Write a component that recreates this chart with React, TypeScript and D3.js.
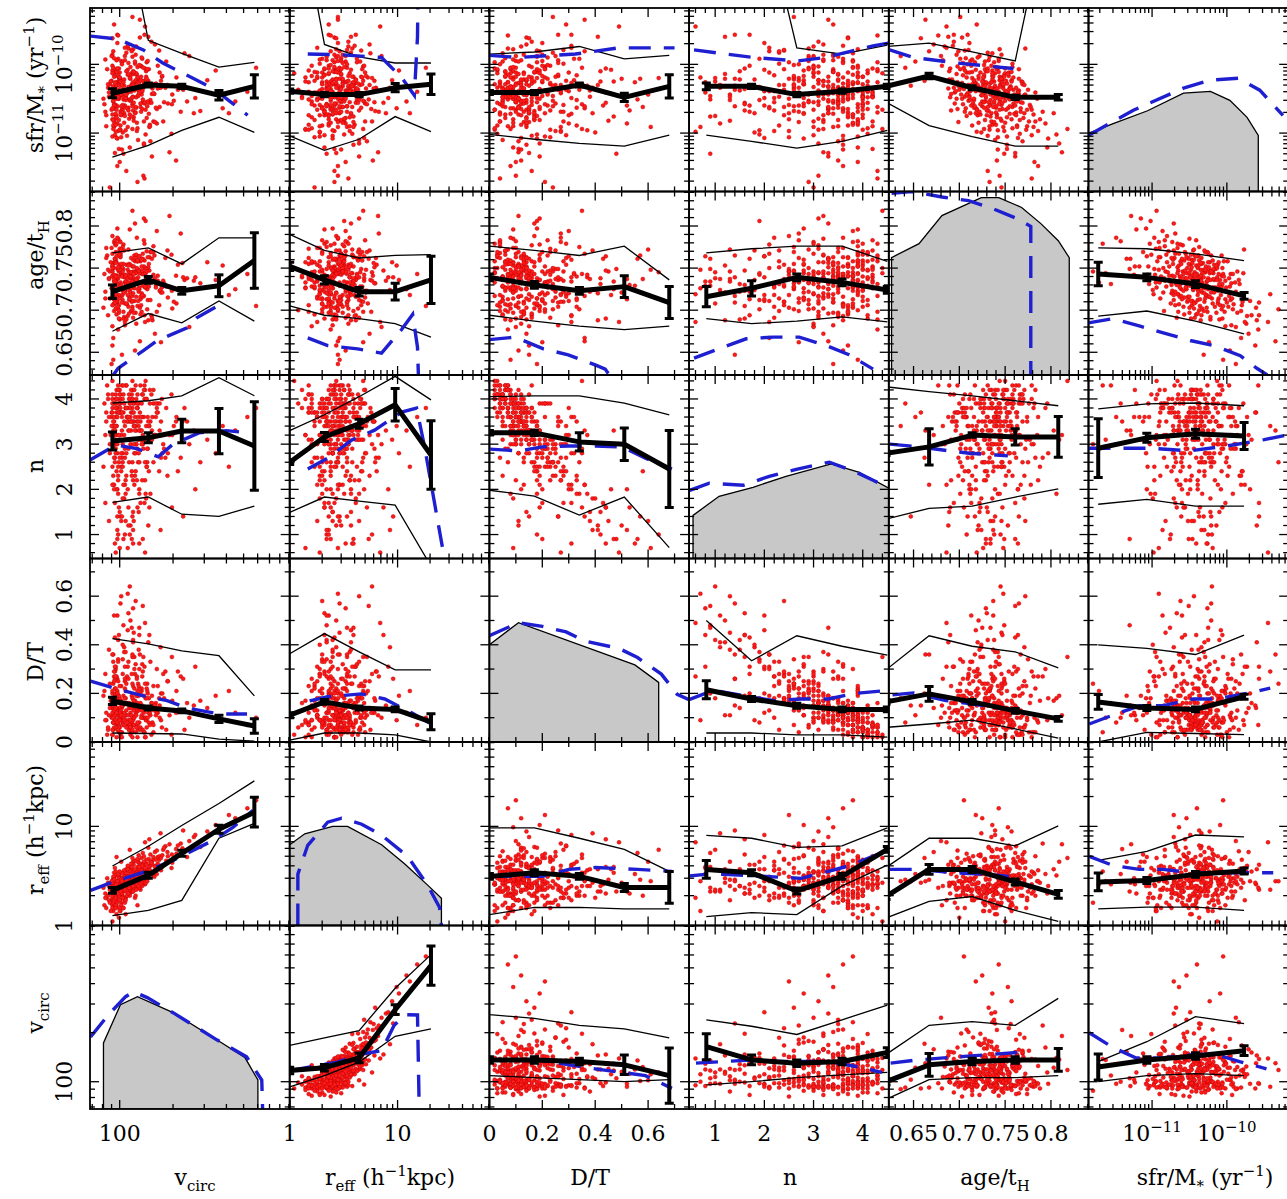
import React, { useEffect, useRef } from "react";
import * as d3 from "d3";

type Key = "vcirc" | "reff" | "dt" | "n" | "age" | "sfr";

// column variables left to right; rows run the other way round
const colKeys: Key[] = ["vcirc", "reff", "dt", "n", "age", "sfr"];
const rowKeys: Key[] = ["sfr", "age", "n", "dt", "reff", "vcirc"];

// axis limits (sfr/M* kept as log10 yr^-1)
const limits: Record<Key, [number, number]> = {
  vcirc: [68, 910],
  reff: [1, 71],
  dt: [0, 0.755],
  n: [0.47, 4.53],
  age: [0.623, 0.841],
  sfr: [-11.85, -9.18],
};

// tick labels
const vcircTicks = [100];
const reffTicks = [1, 10];
const dtTicks = [0, 0.2, 0.4, 0.6];
const nTicks = [1, 2, 3, 4];
const ageTicks = [0.65, 0.7, 0.75, 0.8];
const sfrTicks = [-11, -10];

// bin centres used for the running statistics
const vcircBins = [91, 145, 224, 363, 575];
const reffBins = [1.0, 2.1, 4.4, 9.5, 20.4];
const dtBins = [0, 0.17, 0.34, 0.51, 0.68];
const nBins = [0.82, 1.74, 2.66, 3.58, 4.5];
const ageBins = [0.62, 0.667, 0.714, 0.761, 0.808];
const sfrBins = [-11.72, -11.07, -10.42, -9.77];

// ---- galaxy sample, one entry per galaxy in every list
// [vcirc km/s, reff h^-1 kpc]
const sizes = [
  [96, 2.1], [104, 2.9], [121, 3.3], [92, 1.6], [138, 4.1], [99, 2.6], [115, 2.2], [167, 4.6], [93, 3.4], [108, 1.9],
  [127, 2.7], [101, 1.4], [145, 3.7], [94, 2.4], [112, 3.8], [208, 5.9], [98, 2.0], [131, 3.1], [90, 1.7], [119, 4.4],
  [102, 2.8], [155, 3.2], [97, 2.3], [110, 2.5], [181, 6.3], [95, 1.5], [124, 3.5], [105, 2.2], [141, 2.9], [91, 2.7],
  [113, 3.0], [133, 4.8], [100, 1.8], [262, 7.8], [92, 2.9], [118, 2.6], [107, 3.3], [149, 5.2], [96, 1.3], [126, 2.4],
  [103, 2.5], [173, 3.9], [94, 2.0], [111, 4.0], [136, 2.8], [99, 3.1], [122, 1.9], [93, 2.2], [198, 4.3], [106, 2.7],
  [117, 3.6], [91, 1.6], [143, 3.4], [101, 2.3], [128, 5.1], [97, 2.8], [114, 2.1], [232, 5.6], [95, 1.9], [109, 3.2],
  [160, 4.0], [98, 2.4], [120, 2.9], [92, 2.6], [135, 3.0], [102, 1.7], [116, 3.9], [312, 8.9], [96, 2.2], [125, 3.6],
  [104, 2.0], [152, 4.4], [93, 3.0], [112, 2.4], [100, 2.5], [139, 2.6], [108, 3.4], [90, 1.8], [187, 5.0], [119, 2.7],
  [97, 2.3], [123, 3.1], [105, 1.5], [146, 4.7], [94, 2.1], [113, 3.5], [99, 2.0], [130, 2.8], [91, 2.5], [171, 3.6],
  [101, 2.9], [118, 2.2], [95, 3.2], [137, 3.9], [107, 1.8], [92, 1.4], [128, 4.3], [103, 2.6], [221, 6.7], [98, 2.2],
  [115, 2.9], [93, 2.0], [142, 3.3], [109, 3.7], [96, 1.7], [381, 9.8], [121, 2.5], [100, 3.3], [131, 2.3], [91, 2.2],
  [111, 2.8], [158, 5.5], [94, 1.6], [119, 3.2], [104, 2.4], [134, 4.2], [97, 2.7], [196, 3.8], [108, 1.9], [92, 3.1],
  [126, 2.6], [99, 2.1], [145, 6.1], [114, 2.3], [95, 2.4], [117, 3.4], [102, 1.6], [164, 4.9], [93, 2.8], [123, 2.9],
  [106, 3.6], [96, 1.8], [140, 3.2], [111, 2.1], [247, 7.1], [98, 2.6], [120, 4.1], [91, 1.5], [129, 2.4], [103, 3.0],
  [115, 2.7], [94, 2.3], [151, 3.5], [107, 1.7], [100, 2.9], [132, 3.8], [92, 2.0], [118, 3.1], [183, 4.5], [97, 2.5],
  [110, 2.2], [95, 3.5], [138, 2.7], [104, 1.9], [122, 3.3], [91, 2.6], [285, 6.2], [101, 2.4], [127, 4.6], [96, 1.6],
  [113, 2.8], [93, 2.3], [148, 4.0], [105, 3.1], [99, 2.0], [136, 3.4], [116, 2.5], [94, 2.7], [209, 5.3], [108, 1.8],
  [125, 3.0], [92, 2.9], [102, 2.1], [157, 3.1], [111, 3.7], [97, 2.2], [130, 2.6], [100, 1.5], [121, 4.5], [449, 12.1],
  [95, 2.5], [114, 2.0], [142, 4.2], [106, 2.7], [91, 1.9], [119, 3.3], [98, 2.8], [134, 2.5], [103, 3.4], [176, 5.8],
  [93, 2.1], [117, 2.4], [101, 3.0], [128, 3.7], [96, 1.7], [109, 2.6], [153, 4.1], [92, 2.4], [124, 2.9], [104, 2.2],
  [348, 10.3], [99, 2.8], [113, 3.2], [95, 2.0], [139, 3.6], [107, 2.5], [91, 2.3], [127, 4.4], [100, 1.8], [162, 3.3],
  [112, 2.9], [94, 2.6], [120, 2.3], [98, 3.2], [133, 2.7], [103, 2.1], [191, 6.6], [96, 2.4], [115, 3.5], [92, 1.7],
  [123, 3.1], [105, 2.6], [147, 3.9], [97, 2.3], [110, 2.0], [93, 2.9], [129, 3.4], [101, 2.2], [240, 4.9], [118, 2.8],
  [95, 1.6], [137, 4.3], [108, 2.5], [91, 2.7], [121, 2.3], [99, 3.0], [168, 5.0], [104, 1.9], [94, 2.5], [126, 3.2],
  [112, 2.1], [97, 2.8], [144, 3.0], [100, 3.5], [131, 2.6], [93, 1.8], [116, 4.2], [106, 2.4], [525, 15.2], [98, 2.1],
  [120, 3.6], [92, 2.2], [155, 4.7], [109, 2.7], [95, 1.5], [135, 3.5], [102, 2.9], [118, 2.2], [96, 2.6], [202, 4.8],
  [114, 5.8], [99, 1.2], [123, 2.0], [96, 4.9], [170, 8.5], [91, 1.1], [139, 6.9], [108, 1.3], [413, 13.0], [102, 4.4],
  [94, 3.8], [126, 1.6], [588, 18.3], [147, 7.4], [100, 1.4], [118, 4.8], [93, 2.2], [228, 9.1], [105, 1.5], [135, 5.4],
  [97, 2.4], [112, 3.0], [95, 1.9], [129, 3.7], [103, 2.8], [91, 2.0], [141, 4.1], [107, 2.3], [98, 3.3], [119, 2.5],
  [84, 1.9], [88, 2.3], [82, 1.6], [86, 2.7], [89, 1.4], [83, 2.1], [87, 1.8], [85, 3.0], [81, 2.4], [88, 1.7],
  [126, 3.9], [133, 2.9], [118, 3.4], [141, 4.6], [152, 3.3], [129, 2.4], [137, 5.0], [164, 4.2], [121, 2.8], [146, 3.7],
  [178, 6.1], [112, 3.1], [124, 4.5], [158, 3.9], [119, 2.2], [133, 3.6], [171, 4.8], [140, 2.7], [127, 3.3], [186, 5.5],
  [115, 2.6], [149, 4.4], [122, 3.7], [135, 3.0], [162, 5.7], [128, 2.5], [117, 3.9], [144, 3.2], [131, 4.1], [155, 4.9],
  [213, 6.4], [109, 2.9], [124, 2.3], [138, 3.5], [197, 5.2], [116, 3.3], [143, 2.8], [126, 4.7], [168, 3.8], [134, 4.0],
  [86, 2.0], [90, 2.8], [84, 1.5], [87, 2.5], [83, 1.9], [125, 3.1], [139, 3.8], [151, 4.3], [120, 2.7], [132, 3.4],
  [267, 8.2], [226, 6.0], [174, 5.1], [148, 3.6], [113, 2.4], [129, 3.9], [160, 4.6], [142, 3.1], [118, 2.9], [137, 4.4],
];
// disc-to-total ratio
const diskToTotal = [
  0.08, 0.15, 0.22, 0.05, 0.31, 0.11, 0.03, 0.18, 0.27, 0.09, 0.13, 0.02, 0.41, 0.19, 0.07, 0.12, 0.34, 0.06, 0.14, 0.23,
  0.10, 0.04, 0.26, 0.16, 0.29, 0.08, 0.12, 0.48, 0.09, 0.17, 0.05, 0.21, 0.13, 0.15, 0.36, 0.02, 0.25, 0.11, 0.07, 0.19,
  0.14, 0.06, 0.22, 0.31, 0.10, 0.04, 0.28, 0.12, 0.17, 0.39, 0.08, 0.15, 0.24, 0.03, 0.13, 0.20, 0.09, 0.05, 0.30, 0.11,
  0.16, 0.07, 0.45, 0.18, 0.10, 0.23, 0.04, 0.14, 0.12, 0.27, 0.08, 0.19, 0.06, 0.33, 0.14, 0.02, 0.21, 0.10, 0.25, 0.09,
  0.52, 0.13, 0.07, 0.18, 0.29, 0.05, 0.16, 0.36, 0.11, 0.09, 0.57, 0.04, 0.22, 0.14, 0.31, 0.08, 0.19, 0.02, 0.27, 0.42,
  0.12, 0.17, 0.06, 0.24, 0.13, 0.09, 0.35, 0.10, 0.20, 0.05, 0.61, 0.14, 0.26, 0.07, 0.15, 0.32, 0.11, 0.03, 0.18, 0.08,
  0.21, 0.44, 0.12, 0.06, 0.16, 0.28, 0.09, 0.23, 0.13, 0.04, 0.37, 0.11, 0.18, 0.07, 0.10, 0.25, 0.14, 0.03, 0.30, 0.12,
  0.50, 0.09, 0.16, 0.22, 0.06, 0.15, 0.33, 0.10, 0.05, 0.18, 0.27, 0.08, 0.13, 0.40, 0.11, 0.20, 0.17, 0.04, 0.24, 0.14,
  0.07, 0.29, 0.12, 0.19, 0.09, 0.35, 0.06, 0.15, 0.21, 0.11, 0.26, 0.08, 0.17, 0.13, 0.46, 0.05, 0.14, 0.23, 0.10, 0.12,
  0.31, 0.07, 0.18, 0.12, 0.21, 0.55, 0.09, 0.15, 0.04, 0.28, 0.10, 0.19, 0.13, 0.38, 0.06, 0.16, 0.08, 0.24, 0.11, 0.34,
  0.19, 0.07, 0.14, 0.20, 0.10, 0.26, 0.12, 0.05, 0.18, 0.30, 0.09, 0.43, 0.13, 0.08, 0.22, 0.15, 0.11, 0.27, 0.06, 0.17,
  0.32, 0.10, 0.14, 0.21, 0.08, 0.13, 0.47, 0.04, 0.16, 0.24, 0.09, 0.12, 0.37, 0.15, 0.07, 0.19, 0.10, 0.28, 0.11, 0.16,
  0.53, 0.08, 0.20, 0.12, 0.05, 0.25, 0.14, 0.09, 0.07, 0.33, 0.17, 0.10, 0.23, 0.06, 0.14, 0.29, 0.11, 0.18, 0.02, 0.13,
  0.64, 0.06, 0.58, 0.12, 0.39, 0.03, 0.49, 0.16, 0.21, 0.60, 0.31, 0.02, 0.10, 0.44, 0.09, 0.35, 0.52, 0.26, 0.07, 0.56,
  0.20, 0.11, 0.27, 0.08, 0.15, 0.36, 0.09, 0.18, 0.05, 0.42, 0.09, 0.14, 0.21, 0.05, 0.17, 0.28, 0.11, 0.03, 0.19, 0.24,
  0.07, 0.13, 0.36, 0.10, 0.16, 0.22, 0.04, 0.12, 0.30, 0.08, 0.18, 0.26, 0.06, 0.15, 0.41, 0.11, 0.20, 0.02, 0.14, 0.25,
  0.09, 0.33, 0.17, 0.05, 0.12, 0.23, 0.47, 0.10, 0.16, 0.07, 0.29, 0.13, 0.19, 0.04, 0.35, 0.11, 0.21, 0.08, 0.15, 0.27,
  0.06, 0.18, 0.12, 0.38, 0.09, 0.14, 0.24, 0.03, 0.17, 0.10, 0.31, 0.13, 0.20, 0.07, 0.16, 0.44, 0.11, 0.22, 0.05, 0.19,
];
// Sersic index
const sersicN = [
  3.4, 2.8, 3.9, 3.1, 1.7, 4.2, 3.6, 2.4, 3.0, 3.8, 2.6, 4.0, 1.2, 3.3, 2.9, 3.5, 1.9, 4.3, 3.7, 2.2,
  3.2, 3.9, 1.4, 3.6, 2.7, 4.1, 3.0, 0.9, 3.4, 2.5, 4.0, 3.1, 3.7, 3.3, 2.1, 3.8, 2.9, 3.5, 4.2, 1.6,
  3.3, 4.0, 2.7, 3.6, 3.1, 3.9, 2.3, 3.5, 3.2, 1.8, 4.1, 3.0, 2.6, 3.7, 3.4, 2.0, 3.9, 3.8, 3.2, 2.8,
  3.6, 4.3, 1.3, 3.4, 3.0, 2.5, 3.7, 3.1, 3.8, 2.2, 4.0, 3.3, 2.9, 3.5, 1.5, 4.2, 3.1, 3.6, 2.8, 3.9,
  1.1, 3.4, 3.7, 2.4, 3.0, 4.1, 2.6, 3.3, 3.8, 3.5, 1.4, 4.0, 2.9, 3.6, 2.1, 3.2, 3.9, 4.3, 2.7, 1.0,
  3.5, 3.1, 4.0, 2.3, 3.7, 3.4, 2.8, 3.9, 1.7, 3.4, 0.7, 3.2, 2.6, 4.2, 3.0, 3.6, 3.8, 4.1, 2.2, 3.3,
  2.9, 1.6, 3.5, 4.0, 3.1, 2.4, 3.7, 3.9, 2.7, 4.3, 3.2, 3.6, 1.9, 3.8, 3.0, 2.5, 3.4, 4.1, 2.0, 3.6,
  1.2, 3.9, 3.1, 2.7, 4.2, 3.3, 2.3, 3.7, 3.8, 2.8, 3.5, 3.0, 4.0, 1.8, 3.6, 3.2, 2.6, 4.1, 3.1, 3.8,
  2.6, 3.4, 3.9, 2.1, 3.7, 2.9, 4.2, 3.3, 3.6, 1.3, 3.5, 3.9, 2.4, 3.2, 2.0, 4.0, 3.7, 3.1, 3.4, 3.3,
  2.8, 3.8, 2.5, 3.5, 3.9, 0.8, 3.2, 4.1, 2.7, 3.0, 3.6, 2.3, 3.9, 1.5, 3.4, 4.3, 3.6, 2.9, 3.3, 2.6,
  2.8, 3.7, 3.1, 3.9, 2.2, 3.4, 4.0, 3.6, 2.7, 3.8, 3.3, 1.7, 3.5, 4.2, 3.0, 3.7, 3.2, 2.4, 3.9, 3.5,
  2.8, 4.1, 3.4, 3.0, 3.6, 2.1, 3.3, 3.8, 3.5, 2.6, 4.0, 3.1, 1.9, 3.7, 4.2, 3.2, 3.9, 2.5, 3.4, 3.8,
  1.6, 3.6, 2.9, 4.1, 3.5, 3.0, 3.3, 3.9, 3.6, 2.2, 3.7, 3.1, 2.6, 4.3, 3.8, 3.2, 2.8, 3.5, 4.0, 3.4,
  1.0, 3.9, 2.4, 2.0, 1.1, 4.4, 0.6, 3.8, 2.5, 1.3, 0.8, 4.1, 3.8, 1.6, 0.7, 4.4, 2.0, 1.4, 4.3, 0.9,
  0.9, 1.2, 0.6, 1.9, 1.4, 2.1, 1.8, 1.0, 2.3, 1.5, 3.5, 2.8, 3.9, 4.1, 3.2, 1.7, 3.6, 4.3, 2.5, 3.0,
  3.8, 3.3, 1.4, 4.0, 3.1, 2.6, 4.2, 3.7, 2.1, 3.4, 2.9, 3.6, 4.0, 3.2, 1.1, 3.9, 2.7, 4.4, 3.5, 2.3,
  3.0, 1.9, 3.3, 4.1, 3.7, 2.8, 0.9, 3.6, 3.1, 4.2, 2.4, 3.8, 3.0, 4.3, 1.6, 3.5, 2.9, 3.9, 3.3, 2.2,
  4.0, 3.4, 3.7, 1.3, 3.2, 3.8, 2.6, 4.1, 3.0, 3.6, 2.0, 3.5, 2.8, 4.2, 3.3, 0.8, 3.9, 2.5, 4.0, 3.1,
];
// [age/tH, log10 sfr/M* yr^-1]
const ageSfr = [
  [0.741, -10.07], [0.712, -10.71], [0.765, -10.38], [0.728, -10.54], [0.694, -9.57], [0.752, -11.23], [0.738, -10.34], [0.706, -9.80], [0.781, -10.91], [0.723, -10.38],
  [0.747, -10.22], [0.733, -10.95], [0.688, -9.60], [0.719, -10.65], [0.772, -9.77], [0.741, -11.40], [0.701, -9.92], [0.758, -10.62], [0.726, -10.24], [0.691, -10.67],
  [0.743, -9.95], [0.776, -10.83], [0.709, -9.57], [0.731, -11.04], [0.762, -10.34], [0.737, -10.40], [0.684, -9.74], [0.749, -11.30], [0.729, -10.10], [0.788, -10.80],
  [0.716, -10.52], [0.698, -10.03], [0.754, -10.12], [0.735, -10.71], [0.667, -9.81], [0.745, -10.29], [0.722, -9.88], [0.769, -11.12], [0.739, -10.47], [0.705, -10.36],
  [0.751, -10.66], [0.727, -10.18], [0.783, -10.41], [0.693, -9.73], [0.744, -11.62], [0.718, -10.27], [0.758, -9.99], [0.734, -10.58], [0.702, -10.44], [0.771, -10.71],
  [0.739, -10.13], [0.681, -10.02], [0.725, -10.61], [0.763, -10.89], [0.748, -10.35], [0.711, -9.69], [0.796, -11.21], [0.736, -9.84], [0.720, -10.74], [0.754, -10.49],
  [0.730, -10.28], [0.677, -9.58], [0.746, -10.82], [0.714, -10.11], [0.767, -10.55], [0.742, -11.06], [0.699, -10.31], [0.757, -10.23], [0.732, -9.94], [0.786, -10.97],
  [0.724, -10.45], [0.761, -11.34], [0.707, -9.91], [0.740, -10.63], [0.689, -10.22], [0.750, -10.06], [0.733, -10.38], [0.774, -10.66], [0.715, -10.57], [0.744, -9.78],
  [0.737, -10.86], [0.697, -9.86], [0.755, -10.51], [0.728, -10.07], [0.779, -11.03], [0.712, -10.39], [0.746, -10.19], [0.663, -9.35], [0.741, -10.73], [0.721, -10.33],
  [0.765, -10.21], [0.704, -10.58], [0.734, -10.44], [0.752, -11.17], [0.686, -9.76], [0.727, -10.94], [0.759, -10.37], [0.717, -9.97], [0.791, -10.69], [0.738, -10.25],
  [0.744, -10.53], [0.708, -10.12], [0.770, -10.78], [0.731, -9.83], [0.695, -10.41], [0.753, -10.64], [0.726, -10.29], [0.782, -11.42], [0.713, -10.02], [0.740, -10.36],
  [0.748, -10.91], [0.672, -9.71], [0.736, -10.17], [0.760, -10.47], [0.719, -10.66], [0.743, -9.92], [0.703, -10.27], [0.766, -11.01], [0.729, -10.49], [0.756, -10.32],
  [0.733, -11.71], [0.690, -10.06], [0.751, -10.24], [0.723, -10.73], [0.777, -10.59], [0.710, -9.79], [0.745, -10.43], [0.735, -10.02], [0.699, -10.84], [0.762, -10.70],
  [0.739, -10.31], [0.716, -10.50], [0.806, -11.02], [0.727, -10.15], [0.680, -9.88], [0.749, -10.97], [0.738, -10.56], [0.706, -10.09], [0.764, -10.39], [0.742, -11.24],
  [0.721, -10.21], [0.757, -10.80], [0.694, -9.67], [0.733, -10.60], [0.771, -10.45], [0.744, -10.18], [0.714, -10.89], [0.752, -10.28], [0.728, -9.96], [0.797, -11.08],
  [0.737, -10.42], [0.702, -10.33], [0.759, -10.57], [0.724, -10.99], [0.652, -9.96], [0.746, -9.86], [0.732, -10.68], [0.768, -10.25], [0.711, -10.46], [0.741, -10.77],
  [0.755, -10.34], [0.719, -9.42], [0.736, -10.88], [0.778, -10.62], [0.697, -10.50], [0.743, -10.05], [0.726, -10.40], [0.761, -11.29], [0.708, -10.19], [0.734, -10.52],
  [0.749, -10.15], [0.641, -10.05], [0.730, -10.74], [0.765, -10.43], [0.718, -10.08], [0.740, -10.61], [0.703, -9.61], [0.773, -10.95], [0.745, -10.30], [0.725, -10.54],
  [0.760, -10.72], [0.713, -10.36], [0.738, -9.97], [0.692, -10.22], [0.752, -11.05], [0.729, -10.26], [0.785, -10.50], [0.747, -10.65], [0.709, -10.00], [0.735, -10.83],
  [0.742, -10.45], [0.699, -9.81], [0.767, -10.69], [0.722, -10.38], [0.757, -10.11], [0.731, -11.55], [0.688, -10.35], [0.750, -10.53], [0.716, -10.63], [0.775, -10.37],
  [0.736, -10.09], [0.706, -10.47], [0.745, -10.79], [0.769, -10.26], [0.727, -10.55], [0.682, -9.94], [0.753, -10.41], [0.739, -11.10], [0.714, -10.20], [0.794, -10.86],
  [0.733, -10.33], [0.761, -10.60], [0.697, -10.14], [0.748, -10.48], [0.720, -9.90], [0.740, -10.70], [0.812, -11.28], [0.710, -10.30], [0.754, -10.17], [0.728, -10.81],
  [0.744, -10.23], [0.690, -10.48], [0.763, -10.91], [0.731, -10.06], [0.707, -10.64], [0.750, -10.39], [0.725, -10.25], [0.781, -10.73], [0.738, -10.54], [0.701, -9.31],
  [0.756, -10.46], [0.717, -10.28], [0.742, -10.96], [0.658, -9.62], [0.735, -10.35], [0.766, -10.81], [0.723, -10.12], [0.746, -10.59], [0.709, -10.42], [0.758, -10.04],
  [0.730, -10.67], [0.786, -11.48], [0.712, -9.95], [0.748, -10.31], [0.695, -10.57], [0.737, -10.18], [0.762, -10.52], [0.721, -10.85], [0.743, -10.40], [0.704, -10.16],
  [0.752, -10.77], [0.727, -10.42], [0.769, -10.29], [0.689, -10.10], [0.740, -10.88], [0.716, -10.24], [0.755, -10.61], [0.733, -9.89], [0.779, -10.66], [0.710, -10.53],
  [0.745, -10.20], [0.700, -10.37], [0.737, -10.62], [0.764, -11.07], [0.724, -10.34], [0.750, -10.13], [0.686, -9.45], [0.741, -10.49], [0.718, -10.71], [0.772, -10.44],
  [0.734, -10.27], [0.758, -10.93], [0.705, -10.05], [0.747, -10.56], [0.726, -10.19], [0.818, -10.94], [0.713, -10.60], [0.739, -10.37], [0.698, -10.26], [0.761, -10.51],
  [0.729, -10.46], [0.753, -10.14], [0.719, -10.98], [0.744, -10.33], [0.647, -10.31], [0.767, -10.64], [0.736, -10.22], [0.708, -10.75], [0.751, -10.47], [0.731, -10.10],
  [0.774, -10.90], [0.714, -10.29], [0.743, -10.58], [0.694, -10.34], [0.757, -10.25], [0.722, -10.69], [0.738, -10.41], [0.765, -10.07], [0.703, -10.50], [0.746, -11.79],
  [0.735, -10.26], [0.760, -10.44], [0.717, -10.61], [0.749, -10.18], [0.691, -10.43], [0.727, -10.01], [0.783, -10.83], [0.741, -10.35], [0.711, -10.12], [0.755, -10.72],
  [0.732, -10.55], [0.704, -9.98], [0.766, -10.48], [0.738, -10.84], [0.720, -10.30], [0.752, -10.39], [0.662, -10.24], [0.744, -10.66], [0.725, -10.45], [0.771, -10.30],
  [0.740, -10.04], [0.712, -10.52], [0.803, -10.71], [0.729, -10.36], [0.698, -10.65], [0.747, -10.27], [0.734, -10.76], [0.763, -10.54], [0.716, -10.23], [0.742, -10.42],
  [0.754, -10.37], [0.708, -10.44], [0.736, -10.13], [0.779, -11.66], [0.723, -10.58], [0.745, -10.50], [0.701, -10.07], [0.759, -10.19], [0.731, -10.62], [0.718, -10.39],
  [0.748, -10.29], [0.636, -9.88], [0.762, -10.74], [0.737, -10.47], [0.714, -9.93], [0.750, -10.85], [0.728, -10.31], [0.769, -10.56], [0.743, -10.11], [0.706, -10.69],
  [0.739, -10.49], [0.756, -10.35], [0.721, -10.17], [0.733, -10.90], [0.696, -10.39], [0.764, -10.41], [0.727, -10.63], [0.746, -10.21], [0.711, -10.48], [0.809, -11.15],
];

// ---- running statistics per row; entries follow the column order, null on the diagonal
// sfr/M* row (log10 yr^-1); errors in dex
const sfrMedian = [[-10.42, -10.3, -10.32, -10.45, -10.32], [-10.39, -10.44, -10.44, -10.34, -10.29], [-10.41, -10.41, -10.3, -10.48, -10.32], [-10.32, -10.32, -10.44, -10.39, -10.32], [-10.32, -10.17, -10.34, -10.48, -10.48], null];
const sfrErr = [[0.065, 0.03, 0.03, 0.07, 0.17], [0.03, 0.03, 0.03, 0.06, 0.15], [0.03, 0.03, 0.03, 0.06, 0.17], [0.05, 0.03, 0.03, 0.03, 0.03], [0.03, 0.04, 0.03, 0.03, 0.04], null];
const sfrHigh = [[-7, -9.65, -9.84, -10.04, -9.97], [-7, -9.71, -9.89, -9.98, -9.98], [-9.85, -9.82, -9.74, -9.92, -9.87], [-7, -7, -9.76, -9.85, -9.72], [-9.74, -9.69, -9.82, -9.95, -7], null];
const sfrLow = [[-11.35, -11.18, -10.96, -10.77, -10.99], [-11.04, -11.25, -11.09, -10.76, -10.98], [-11.02, -11.09, -11.15, -11.19, -11.03], [-11.03, -11.12, -11.22, -11.12, -10.96], [-10.55, -10.89, -11.05, -11.19, -11.19], null];
const sfrModel = [
  [[68.7, -9.59], [97, -9.63], [136, -9.79], [175, -9.98], [240, -10.16], [336, -10.35], [435, -10.57], [527, -10.74]],
  [[1.47, -9.85], [3.0, -9.86], [7.1, -9.9], [11.0, -10.2], [14.3, -10.45], [15.3, -9.6], [15.6, -8.5]],
  [[0, -9.87], [0.11, -9.9], [0.325, -9.85], [0.487, -9.76], [0.7, -9.76]],
  [[0.57, -9.79], [1.77, -9.9], [2.69, -9.95], [3.25, -9.9], [4.21, -9.73], [4.52, -9.69]],
  [[0.624, -9.79], [0.65, -9.9], [0.697, -9.98], [0.735, -10.03], [0.759, -10.06]],
  null,
];

// age/tH row
const ageMedian = [[0.722, 0.736, 0.723, 0.729, 0.759], [0.752, 0.736, 0.722, 0.722, 0.736], [0.739, 0.73, 0.723, 0.728, 0.709], [0.716, 0.726, 0.739, 0.733, 0.724], null, [0.743, 0.739, 0.731, 0.717]];
const ageErr = [[0.008, 0.004, 0.004, 0.013, 0.033], [0.005, 0.005, 0.005, 0.01, 0.028], [0.004, 0.004, 0.004, 0.013, 0.019], [0.012, 0.009, 0.004, 0.004, 0.004], null, [0.014, 0.004, 0.004, 0.004]];
const ageHigh = [[0.768, 0.774, 0.755, 0.786, 0.786], [0.79, 0.771, 0.762, 0.765, 0.766], [0.776, 0.771, 0.765, 0.776, 0.736], [0.768, 0.773, 0.776, 0.776, 0.758], null, [0.774, 0.773, 0.767, 0.759]];
const ageLow = [[0.675, 0.696, 0.685, 0.711, 0.687], [0.705, 0.694, 0.69, 0.684, 0.668], [0.694, 0.687, 0.681, 0.677, 0.681], [0.69, 0.684, 0.687, 0.692, 0.686], null, [0.693, 0.699, 0.687, 0.672]];
const ageModel = [
  [[90, 0.62], [98, 0.631], [136, 0.652], [163, 0.664], [240, 0.679], [272, 0.691], [402, 0.711]],
  [[1.47, 0.667], [2.25, 0.658], [4.26, 0.654], [7.1, 0.649], [10.9, 0.677], [13.8, 0.695], [15.3, 0.656], [15.6, 0.622]],
  [[0, 0.665], [0.098, 0.668], [0.204, 0.654], [0.298, 0.647], [0.4, 0.635], [0.438, 0.63], [0.46, 0.62]],
  [[0.57, 0.643], [1.16, 0.656], [1.63, 0.666], [2.18, 0.668], [2.71, 0.668], [3.26, 0.658], [3.72, 0.647], [4.21, 0.63]],
  null,
  [[-11.85, 0.685], [-11.52, 0.69], [-11.16, 0.681], [-10.85, 0.673], [-10.49, 0.664], [-10.18, 0.658], [-9.82, 0.646], [-9.6, 0.631], [-9.46, 0.623]],
];

// Sersic n row
const nMedian = [[3.07, 3.14, 3.29, 3.29, 2.96], [2.6, 3.16, 3.45, 3.87, 2.76], [3.25, 3.25, 3.05, 3.0, 2.45], null, [2.8, 2.94, 3.2, 3.16, 3.16], [2.91, 3.14, 3.23, 3.18]];
const nErr = [[0.2, 0.11, 0.26, 0.5, 0.98], [0.05, 0.1, 0.1, 0.36, 0.76], [0.05, 0.06, 0.2, 0.36, 0.85], null, [0.05, 0.4, 0.05, 0.18, 0.45], [0.65, 0.1, 0.1, 0.3]];
const nHigh = [[3.91, 3.96, 4.07, 4.47, 4.07], [3.3, 3.65, 4.05, 4.5, 3.98], [4.05, 4.07, 4.07, 3.91, 3.65], null, [4.27, 4.16, 4.07, 3.96, 3.85], [3.78, 3.89, 3.91, 3.85]];
const nLow = [[1.71, 1.83, 1.45, 1.4, 1.63], [1.49, 1.83, 1.74, 1.65, 0.3], [1.98, 1.85, 1.43, 1.83, 0.71], null, [1.34, 1.58, 1.63, 1.83, 2.01], [1.67, 1.78, 1.63, 1.63]];
const nModel = [
  [[68, 2.65], [95, 2.98], [125, 2.9], [165, 2.72], [200, 3.0], [280, 3.25], [400, 3.3], [540, 3.25]],
  [[1.47, 2.45], [2.25, 2.69], [3.75, 3.09], [6.12, 3.31], [10.9, 3.71], [15.0, 3.8], [17.8, 2.94], [23.4, 1.34], [27.2, 0.47]],
  [[0.003, 2.89], [0.113, 2.85], [0.2, 2.94], [0.3, 2.96], [0.4, 2.96], [0.5, 2.94], [0.59, 2.69], [0.69, 2.45]],
  null,
  [[0.624, 3.0], [0.657, 2.94], [0.689, 2.85], [0.711, 2.8], [0.74, 2.76], [0.753, 2.74]],
  [[-11.85, 2.91], [-11.4, 2.91], [-11.0, 2.91], [-10.5, 2.85], [-10.0, 2.96], [-9.5, 3.1], [-9.2, 3.2]],
];

// D/T row
const dtMedian = [[0.169, 0.14, 0.128, 0.095, 0.066], [0.11, 0.165, 0.14, 0.134, 0.083], null, [0.215, 0.177, 0.149, 0.134, 0.134], [0.165, 0.198, 0.165, 0.128, 0.095], [0.165, 0.14, 0.134, 0.186]];
const dtErr = [[0.015, 0.008, 0.008, 0.015, 0.03], [0.01, 0.01, 0.008, 0.01, 0.033], null, [0.037, 0.01, 0.01, 0.01, 0.01], [0.01, 0.03, 0.01, 0.01, 0.01], [0.03, 0.01, 0.01, 0.01]];
const dtHigh = [[0.425, 0.404, 0.375, 0.355, 0.19], [0.363, 0.446, 0.371, 0.297, 0.297], null, [0.5, 0.334, 0.437, 0.394, 0.357], [0.297, 0.437, 0.394, 0.371, 0.305], [0.4, 0.385, 0.36, 0.44]];
const dtLow = [[0.037, 0.035, 0.033, 0.012, 0.004], [0.008, 0.037, 0.037, 0.029, 0.0], null, [0.037, 0.037, 0.029, 0.029, 0.02], [0.06, 0.074, 0.09, 0.054, 0.016], [0.0, 0.04, 0.035, 0.03]];
const dtModel = [
  [[68.5, 0.25], [95, 0.22], [136, 0.19], [185, 0.17], [240, 0.14], [368, 0.115], [523, 0.115]],
  [[1.53, 0.169], [2.25, 0.186], [4.6, 0.198], [7.6, 0.177], [13.5, 0.12], [20.6, 0.074]],
  null,
  [[0.41, 0.17], [0.8, 0.2], [1.04, 0.21], [1.59, 0.19], [2.2, 0.17], [2.75, 0.177], [3.3, 0.177], [3.84, 0.2], [4.39, 0.21]],
  [[0.627, 0.194], [0.65, 0.202], [0.684, 0.171], [0.713, 0.157], [0.73, 0.148], [0.755, 0.134]],
  [[-11.84, 0.074], [-11.53, 0.11], [-11.17, 0.149], [-10.86, 0.149], [-10.45, 0.177], [-10.14, 0.177], [-9.73, 0.2], [-9.42, 0.222]],
];

// reff row (h^-1 kpc); errors in dex
const reffMedian = [[2.26, 3.21, 5.35, 9.35, 13.9], null, [3.13, 3.4, 3.13, 2.42, 2.42], [3.68, 3.4, 2.23, 3.13, 5.86], [1.96, 3.68, 3.68, 2.75, 2.06], [2.75, 2.85, 3.28, 3.54]];
const reffErr = [[0.03, 0.03, 0.03, 0.04, 0.15], null, [0.03, 0.03, 0.03, 0.04, 0.16], [0.09, 0.03, 0.03, 0.03, 0.03], [0.03, 0.05, 0.03, 0.03, 0.04], [0.09, 0.03, 0.03, 0.03]];
const reffHigh = [[3.98, 6.31, 10.2, 17.0, 28.8], null, [9.68, 9.68, 7.59, 5.86, 3.52], [8.13, 7.59, 6.15, 6.37, 9.68], [3.85, 7.59, 7.59, 6.37, 10.1], [4.54, 5.6, 8.18, 7.85]];
const reffLow = [[1.26, 1.42, 1.79, 7.59, 10.7], null, [1.29, 1.52, 1.52, 1.47, 1.47], [1.23, 1.35, 1.29, 2.51, 4.07], [1.19, 1.75, 1.96, 1.42, 1.1], [1.47, 1.53, 1.53, 1.42]];
const reffModel = [
  [[68.5, 2.26], [97, 2.85], [136, 3.44], [200, 4.54], [240, 5.35], [337, 7.23], [435, 9.77], [565, 14.5]],
  null,
  [[0, 3.13], [0.113, 3.13], [0.2, 3.13], [0.3, 3.68], [0.4, 3.85], [0.56, 3.68], [0.69, 3.52]],
  [[0.41, 3.13], [0.8, 3.28], [1.18, 3.28], [2.75, 2.99], [3.3, 3.52], [3.76, 4.05], [4.55, 5.86]],
  [[0.624, 3.68], [0.654, 3.68], [0.695, 3.4], [0.732, 3.28], [0.754, 3.13]],
  [[-11.84, 4.99], [-11.53, 4.05], [-11.17, 3.68], [-10.86, 3.68], [-10.45, 3.4], [-10.14, 3.4], [-9.73, 3.4], [-9.38, 3.4]],
];

// vcirc row (km/s); errors in dex
const vcircMedian = [null, [117, 122, 140, 277, 516], [136, 136, 133, 127, 109], [164, 136, 130, 133, 151], [100, 127, 133, 136, 136], [123, 136, 144, 155]];
const vcircErr = [null, [0.02, 0.02, 0.03, 0.03, 0.12], [0.02, 0.02, 0.02, 0.06, 0.17], [0.08, 0.03, 0.02, 0.02, 0.03], [0.02, 0.07, 0.02, 0.02, 0.07], [0.08, 0.02, 0.02, 0.03]];
const vcircHigh = [null, [167, 186, 206, 375, 603], [258, 245, 222, 211, 186], [240, 219, 195, 240, 295], [147, 222, 234, 222, 325], [133, 176, 251, 227]];
const vcircLow = [null, [93, 109, 132, 190, 211], [109, 106, 103, 100, 103], [95.5, 100, 106, 110, 114], [77.8, 103, 106, 106, 109], [100, 109, 112, 109]];
const vcircModel = [
  null,
  [[1, 117], [2.78, 132], [4.6, 148], [7.1, 155], [9.3, 222], [11.7, 258], [15.3, 257], [15.8, 79]],
  [[0, 136], [0.113, 136], [0.2, 136], [0.3, 127], [0.4, 120], [0.59, 109], [0.69, 91]],
  [[0.61, 130], [1.16, 133], [1.73, 136], [2.28, 133], [2.75, 133], [3.3, 133], [3.93, 123], [4.39, 114]],
  [[0.625, 130], [0.654, 136], [0.683, 140], [0.713, 144], [0.734, 147], [0.763, 151]],
  [[-11.84, 200], [-11.53, 163], [-11.22, 140], [-10.86, 140], [-10.45, 147], [-10.14, 147], [-9.83, 133], [-9.47, 120]],
];

// diagonal histograms: [value, relative height]
const sfrHist = [[-11.85, 0.317], [-11.52, 0.37], [-11.06, 0.44], [-10.58, 0.536], [-10.22, 0.546], [-9.96, 0.497], [-9.73, 0.404], [-9.58, 0.306]];
const sfrHistModel = [[-11.85, 0.306], [-11.25, 0.443], [-10.58, 0.563], [-10.22, 0.607], [-9.85, 0.617], [-9.56, 0.552], [-9.25, 0.415]];
const ageHist = [[0.626, 0.64], [0.656, 0.716], [0.681, 0.869], [0.724, 0.967], [0.743, 0.967], [0.768, 0.913], [0.789, 0.825], [0.808, 0.732], [0.82, 0.639]];
const ageHistModel = [[0.626, 0.99], [0.648, 1.0], [0.681, 0.97], [0.71, 0.95], [0.735, 0.91], [0.764, 0.85], [0.778, 0.81], [0.778, 0]];
const nHist = [[0.55, 0.235], [1.08, 0.339], [1.77, 0.388], [2.44, 0.448], [3.36, 0.516], [3.93, 0.47], [4.55, 0.38]];
const nHistModel = [[0.47, 0.37], [0.88, 0.41], [1.57, 0.399], [2.1, 0.448], [2.65, 0.486], [3.32, 0.525], [3.87, 0.47], [4.21, 0.426], [4.52, 0.388]];
const dtHist = [[0, 0.53], [0.11, 0.65], [0.55, 0.42], [0.64, 0.325]];
const dtHistModel = [[0, 0.58], [0.11, 0.65], [0.2, 0.63], [0.29, 0.6], [0.36, 0.55], [0.49, 0.51], [0.56, 0.46], [0.65, 0.37], [0.71, 0.26], [0.77, 0.22]];
const reffHist = [[1, 0.44], [1.38, 0.5], [2.5, 0.54], [3.44, 0.54], [7.11, 0.44], [11.6, 0.336], [19.0, 0.22], [25.5, 0.148]];
const reffHistModel = [[1.19, 0], [1.19, 0.28], [1.47, 0.437], [2.25, 0.563], [3.03, 0.585], [4.65, 0.552], [7.11, 0.492], [12.4, 0.377], [19.0, 0.219], [24.5, 0.098], [25.5, 0]];
const vcircHist = [[81, 0.36], [101, 0.568], [126, 0.612], [200, 0.525], [353, 0.377], [510, 0.279], [602, 0.158]];
const vcircHistModel = [[68.5, 0.393], [86.5, 0.514], [108, 0.612], [120, 0.639], [143, 0.607], [200, 0.525], [353, 0.377], [520, 0.284], [633, 0.158], [640, 0]];

// ---- lookups
const binsOf: Record<Key, number[]> = { vcirc: vcircBins, reff: reffBins, dt: dtBins, n: nBins, age: ageBins, sfr: sfrBins };
const ticksOf: Record<Key, number[]> = { vcirc: vcircTicks, reff: reffTicks, dt: dtTicks, n: nTicks, age: ageTicks, sfr: sfrTicks };
const statsOf: Record<Key, any> = {
  sfr: { med: sfrMedian, err: sfrErr, hi: sfrHigh, lo: sfrLow, model: sfrModel },
  age: { med: ageMedian, err: ageErr, hi: ageHigh, lo: ageLow, model: ageModel },
  n: { med: nMedian, err: nErr, hi: nHigh, lo: nLow, model: nModel },
  dt: { med: dtMedian, err: dtErr, hi: dtHigh, lo: dtLow, model: dtModel },
  reff: { med: reffMedian, err: reffErr, hi: reffHigh, lo: reffLow, model: reffModel },
  vcirc: { med: vcircMedian, err: vcircErr, hi: vcircHigh, lo: vcircLow, model: vcircModel },
};
const histOf: Record<Key, number[][][]> = {
  sfr: [sfrHist, sfrHistModel], age: [ageHist, ageHistModel], n: [nHist, nHistModel],
  dt: [dtHist, dtHistModel], reff: [reffHist, reffHistModel], vcirc: [vcircHist, vcircHistModel],
};

// axis titles: [text, 0 normal | -1 subscript | 1 superscript]
const titles: Record<Key, [string, number][]> = {
  vcirc: [["v", 0], ["circ", -1]],
  reff: [["r", 0], ["eff", -1], [" (h", 0], ["\u22121", 1], ["kpc)", 0]],
  dt: [["D/T", 0]],
  n: [["n", 0]],
  age: [["age/t", 0], ["H", -1]],
  sfr: [["sfr/M", 0], ["*", -1], [" (yr", 0], ["\u22121", 1], [")", 0]],
};

const FONT = "'DejaVu Serif', serif";
const RED = "#ff1a1a";
const BLUE = "#1f1fd2";
const left = 90, top = 8, cellW = 199.7, cellH = 183.5;
const yTitleCenter = [85, 255, 466, 662, 830, 1013];
const xTitleCenter = [195, 390, 590, 790, 995, 1205];

const isLog = (k: Key) => k === "vcirc" || k === "reff" || k === "sfr";
const nat = (k: Key, v: number) => (k === "sfr" ? Math.pow(10, v) : v);
const shiftVal = (k: Key, v: number, d: number) => (k === "vcirc" || k === "reff" ? v * Math.pow(10, d) : v + d);

function makeScale(k: Key, r0: number, r1: number) {
  const [a, b] = limits[k];
  if (isLog(k)) return d3.scaleLog().domain([nat(k, a), nat(k, b)]).range([r0, r1]);
  return d3.scaleLinear().domain([a, b]).range([r0, r1]);
}

function tickList(k: Key) {
  const out: { v: number; major: boolean }[] = [];
  const [a0, b0] = limits[k];
  if (isLog(k)) {
    const a = nat(k, a0), b = nat(k, b0);
    for (let d = Math.floor(Math.log10(a)); d <= Math.ceil(Math.log10(b)); d++) {
      for (let m = 1; m <= 9; m++) {
        const v = m * Math.pow(10, d);
        if (v >= a * 0.999 && v <= b * 1.001) out.push({ v, major: m === 1 });
      }
    }
  } else {
    const steps: Record<string, [number, number]> = { dt: [0.1, 0.2], n: [0.2, 1], age: [0.01, 0.05] };
    const [minor, major] = steps[k];
    for (let i = Math.ceil(a0 / minor - 1e-6); i * minor <= b0 + 1e-9; i++) {
      const v = i * minor;
      out.push({ v, major: Math.abs(v / major - Math.round(v / major)) < 1e-6 });
    }
  }
  return out;
}

function richText(sel: any, segs: [string, number][], size: number) {
  const t = sel.append("text").attr("font-family", FONT).attr("font-size", size).attr("fill", "#000");
  let shift = 0;
  segs.forEach(([s, kind]) => {
    const target = kind === 1 ? -0.42 * size : kind === -1 ? 0.25 * size : 0;
    t.append("tspan").attr("dy", target - shift).attr("font-size", kind ? size * 0.68 : size).text(s);
    shift = target;
  });
  return t;
}

function tickSegs(k: Key, v: number): [string, number][] {
  if (k === "sfr") return [["10", 0], [`\u2212${Math.abs(v)}`, 1]];
  return [[String(v), 0]];
}

export default function App() {
  const ref = useRef<SVGSVGElement | null>(null);

  useEffect(() => {
    const svgEl = ref.current;
    if (!svgEl) return;
    const svg = d3.select(svgEl);
    svg.selectAll("*").remove();
    const defs = svg.append("defs");

    const count = Math.min(sizes.length, diskToTotal.length, sersicN.length, ageSfr.length);
    const galaxies = d3.range(count).map((i) => [
      sizes[i][0], sizes[i][1], diskToTotal[i], sersicN[i], ageSfr[i][0], ageSfr[i][1],
    ]);

    colKeys.forEach((cx, ci) => {
      rowKeys.forEach((ry, ri) => {
        const x0 = left + ci * cellW, y0 = top + ri * cellH;
        const xs = makeScale(cx, x0, x0 + cellW);
        const ys = makeScale(ry, y0 + cellH, y0);
        const X = (v: number) => xs(nat(cx, v));
        const Y = (v: number) => ys(nat(ry, v));
        const id = `clip-${ri}-${ci}`;
        defs.append("clipPath").attr("id", id).append("rect")
          .attr("x", x0).attr("y", y0).attr("width", cellW).attr("height", cellH);
        const g = svg.append("g").attr("clip-path", `url(#${id})`);

        if (ri + ci === 5) {
          // histogram of the variable on the diagonal
          const [hist, model] = histOf[cx];
          const hy = d3.scaleLinear().domain([0, 1]).range([y0 + cellH, y0]);
          const pts: [number, number][] = [[X(hist[0][0]), hy(0)], ...hist.map((d) => [X(d[0]), hy(d[1])] as [number, number]), [X(hist[hist.length - 1][0]), hy(0)]];
          g.append("path").attr("d", d3.line()(pts) + "Z")
            .attr("fill", "#c8c8c8").attr("stroke", "#000").attr("stroke-width", 1.3);
          g.append("path").attr("d", d3.line()(model.map((d) => [X(d[0]), hy(d[1])] as [number, number])))
            .attr("fill", "none").attr("stroke", BLUE).attr("stroke-width", 3.4).attr("stroke-dasharray", "22 13");
        } else {
          const yi = colKeys.indexOf(ry);
          g.append("g").selectAll("circle").data(galaxies).join("circle")
            .attr("cx", (d) => X(d[ci])).attr("cy", (d) => Y(d[yi])).attr("r", 2)
            .attr("fill", RED).attr("stroke", "#b40000").attr("stroke-width", 0.4);

          const st = statsOf[ry];
          const bins = binsOf[cx];
          const med: number[] = st.med[ci], err: number[] = st.err[ci];
          const hi: number[] = st.hi[ci], lo: number[] = st.lo[ci];
          const model: number[][] = st.model[ci];
          const line = d3.line();
          [hi, lo].forEach((arr) => {
            g.append("path").attr("d", line(bins.map((b, i) => [X(b), Y(arr[i])] as [number, number])))
              .attr("fill", "none").attr("stroke", "#000").attr("stroke-width", 1.3);
          });
          g.append("path").attr("d", line(model.map((d) => [X(d[0]), Y(d[1])] as [number, number])))
            .attr("fill", "none").attr("stroke", BLUE).attr("stroke-width", 3.4).attr("stroke-dasharray", "22 13");
          g.append("path").attr("d", line(bins.map((b, i) => [X(b), Y(med[i])] as [number, number])))
            .attr("fill", "none").attr("stroke", "#000").attr("stroke-width", 5).attr("stroke-linejoin", "round");
          bins.forEach((b, i) => {
            const px = X(b);
            const ya = Y(shiftVal(ry, med[i], -err[i])), yb = Y(shiftVal(ry, med[i], err[i]));
            g.append("line").attr("x1", px).attr("x2", px).attr("y1", ya).attr("y2", yb)
              .attr("stroke", "#000").attr("stroke-width", 4);
            [ya, yb].forEach((yy) => g.append("line").attr("x1", px - 4.5).attr("x2", px + 4.5).attr("y1", yy).attr("y2", yy)
              .attr("stroke", "#000").attr("stroke-width", 3));
          });
        }

        // frame and inward ticks on all four sides
        const fr = svg.append("g").attr("stroke", "#000").attr("fill", "none");
        fr.append("rect").attr("x", x0).attr("y", y0).attr("width", cellW).attr("height", cellH).attr("stroke-width", 1.8);
        tickList(cx).forEach((t) => {
          const px = xs(t.v), len = t.major ? 9 : 5;
          fr.append("line").attr("x1", px).attr("x2", px).attr("y1", y0 + cellH).attr("y2", y0 + cellH - len).attr("stroke-width", 1.3);
          fr.append("line").attr("x1", px).attr("x2", px).attr("y1", y0).attr("y2", y0 + len).attr("stroke-width", 1.3);
        });
        tickList(ry).forEach((t) => {
          const py = ys(t.v), len = t.major ? 9 : 5;
          fr.append("line").attr("x1", x0).attr("x2", x0 + len).attr("y1", py).attr("y2", py).attr("stroke-width", 1.3);
          fr.append("line").attr("x1", x0 + cellW).attr("x2", x0 + cellW - len).attr("y1", py).attr("y2", py).attr("stroke-width", 1.3);
        });

        if (ci === 0) {
          ticksOf[ry].forEach((v) => {
            richText(svg, tickSegs(ry, v), 22)
              .attr("text-anchor", "middle")
              .attr("transform", `translate(72,${ys(nat(ry, v))}) rotate(-90)`);
          });
          richText(svg, titles[ry], 22)
            .attr("text-anchor", "middle")
            .attr("transform", `translate(43,${yTitleCenter[ri]}) rotate(-90)`);
        }
        if (ri === 5) {
          ticksOf[cx].forEach((v) => {
            richText(svg, tickSegs(cx, v), 22).attr("text-anchor", "middle")
              .attr("x", xs(nat(cx, v))).attr("y", 1141);
          });
          richText(svg, titles[cx], 22).attr("text-anchor", "middle")
            .attr("x", xTitleCenter[ci]).attr("y", 1185);
        }
      });
    });
  }, []);

  return (
    <svg
      ref={ref}
      width={1287}
      height={1199}
      style={{ position: "absolute", left: 0, top: 0, background: "#fff" }}
    />
  );
}
